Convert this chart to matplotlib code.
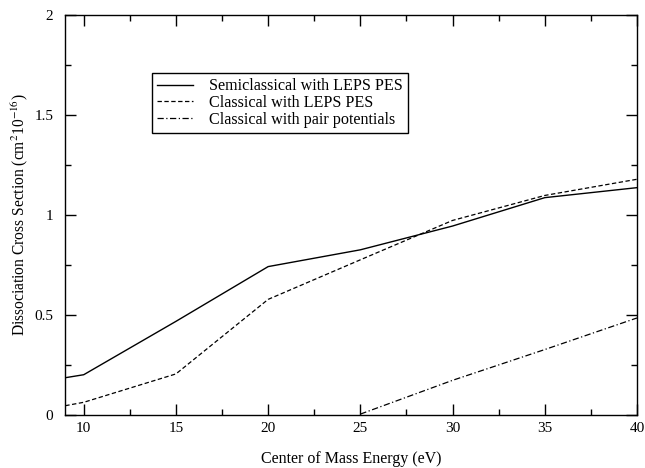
import matplotlib
matplotlib.use("Agg")
import matplotlib.pyplot as plt
from matplotlib.ticker import MultipleLocator

plt.rcParams["font.family"] = "Liberation Serif"
plt.rcParams["mathtext.fontset"] = "stix"

# values
energy_semi = [9, 10, 15, 20, 25, 30, 35, 40]
sigma_semi = [0.185, 0.20, 0.467, 0.741, 0.825, 0.944, 1.086, 1.136]

energy_leps = [9, 10, 15, 20, 25, 30, 35, 40]
sigma_leps = [0.045, 0.062, 0.204, 0.577, 0.775, 0.972, 1.097, 1.178]

energy_pair = [25, 30, 35, 40]
sigma_pair = [0.003, 0.172, 0.326, 0.484]

labels = ["Semiclassical with LEPS PES",
          "Classical with LEPS PES",
          "Classical with pair potentials"]

fig = plt.figure(figsize=(6.45, 4.68), dpi=100)
ax = fig.add_axes([0.1012, 0.1139, 0.8864, 0.8541])

ax.plot(energy_semi, sigma_semi, color="black", lw=1.0, ls="-", label=labels[0])
ax.plot(energy_leps, sigma_leps, color="black", lw=0.9, ls=(0, (3.5, 2)), label=labels[1])
ax.plot(energy_pair, sigma_pair, color="black", lw=0.9, ls=(0, (5, 2, 1, 2)), label=labels[2])

ax.set_xlim(9, 40)
ax.set_ylim(0, 2)
ax.xaxis.set_major_locator(MultipleLocator(5))
ax.xaxis.set_minor_locator(MultipleLocator(2.5))
ax.yaxis.set_major_locator(MultipleLocator(0.5))
ax.yaxis.set_minor_locator(MultipleLocator(0.25))
ax.yaxis.set_major_formatter(matplotlib.ticker.FuncFormatter(lambda v, p: f"{v:g}"))

ax.tick_params(which="both", direction="in", top=True, right=True, labelsize=11)
ax.tick_params(which="major", length=8, width=1)
ax.tick_params(which="minor", length=4.3, width=1)
ax.tick_params(axis="x", pad=5.5)
ax.tick_params(axis="y", pad=8.5)
for sp in ax.spines.values():
    sp.set_linewidth(1.0)

ax.set_xlabel("Center of Mass Energy (eV)", fontsize=11.5, labelpad=11.5)
ax.set_ylabel(r"Dissociation Cross Section (cm$^2$10$^{-16}$)", fontsize=11.2, labelpad=3)

leg = ax.legend(loc="upper left", bbox_to_anchor=(0.151, 0.856), fontsize=11.6,
                fancybox=False, edgecolor="black", framealpha=1,
                handlelength=2.25, handletextpad=0.95, borderpad=0.35,
                borderaxespad=0, labelspacing=0.05)
leg.get_frame().set_linewidth(1.0)

fig.savefig("out.png", dpi=100)
